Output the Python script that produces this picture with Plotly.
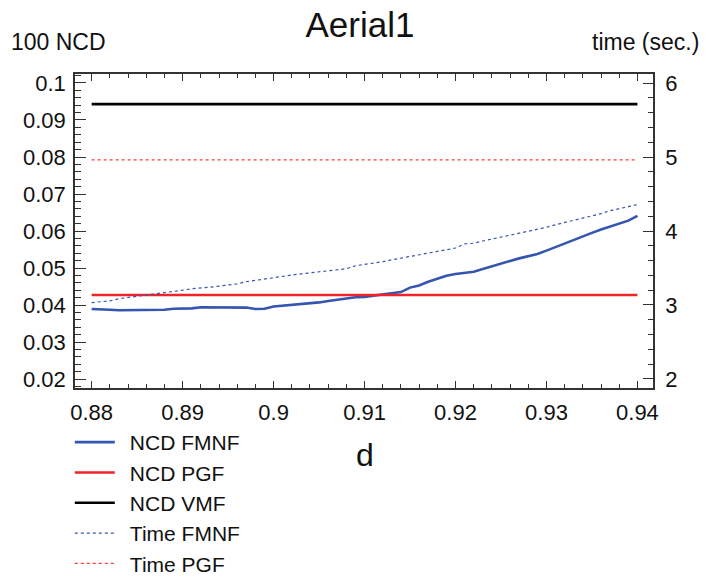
import plotly.graph_objects as go

# d parameter sweep
d_values = [round(0.880 + 0.001 * i, 3) for i in range(61)]

# NCD of the FMNF filter along d
ncd_fmnf = [
    0.0389, 0.0389, 0.0387, 0.0386, 0.0386, 0.0386, 0.0386, 0.0386, 0.0387, 0.0390,
    0.0390, 0.0391, 0.0394, 0.0394, 0.0394, 0.0394, 0.0394, 0.0393, 0.0389, 0.0390,
    0.0396, 0.0398, 0.0399, 0.0402, 0.0404, 0.0407, 0.0411, 0.0415, 0.0418, 0.0421,
    0.0422, 0.0425, 0.0428, 0.0431, 0.0435, 0.0447, 0.0453, 0.0463, 0.0472, 0.0479,
    0.0484, 0.0487, 0.0490, 0.0497, 0.0505, 0.0511, 0.0519, 0.0526, 0.0531, 0.0538,
    0.0547, 0.0557, 0.0566, 0.0576, 0.0585, 0.0595, 0.0604, 0.0612, 0.0619, 0.0628,
    0.0641,
]

# Run time of the FMNF filter (seconds)
time_fmnf = [
    3.033, 3.040, 3.055, 3.085, 3.100, 3.115, 3.135, 3.150, 3.160, 3.180,
    3.200, 3.220, 3.225, 3.240, 3.255, 3.270, 3.285, 3.315, 3.335, 3.350,
    3.375, 3.390, 3.405, 3.420, 3.435, 3.445, 3.460, 3.470, 3.490, 3.530,
    3.545, 3.565, 3.585, 3.610, 3.634, 3.655, 3.675, 3.700, 3.720, 3.745,
    3.770, 3.825, 3.835, 3.865, 3.890, 3.920, 3.950, 3.965, 3.990, 4.020,
    4.050, 4.085, 4.115, 4.145, 4.170, 4.200, 4.235, 4.275, 4.300, 4.325,
    4.357,
]

# Constant reference filters
ncd_pgf = 0.0427
ncd_vmf = 0.0943
time_pgf = 4.96

# Axis ticks
x_ticks = [0.88, 0.89, 0.90, 0.91, 0.92, 0.93, 0.94]
x_ticktext = ["0.88", "0.89", "0.9", "0.91", "0.92", "0.93", "0.94"]
y_ticks = [0.02, 0.03, 0.04, 0.05, 0.06, 0.07, 0.08, 0.09, 0.10]
y_ticktext = ["0.02", "0.03", "0.04", "0.05", "0.06", "0.07", "0.08", "0.09", "0.1"]
y2_ticks = [2, 3, 4, 5, 6]

BLUE = "#3456b0"
RED = "#f2222a"
FONT = "Liberation Sans, Arial, sans-serif"
PAD = "\u00a0\u2009"  # gap between legend swatch and label

W, H = 707, 581
L, R, T, B = 75, 54, 74, 193
PW = W - L - R
PH = H - T - B

d_span = [d_values[0], d_values[-1]]

fig = go.Figure()
fig.add_trace(go.Scatter(x=d_values, y=ncd_fmnf, mode="lines", name=PAD + "NCD FMNF",
                         line=dict(color=BLUE, width=2.6)))
fig.add_trace(go.Scatter(x=d_span, y=[ncd_pgf, ncd_pgf], mode="lines", name=PAD + "NCD PGF",
                         line=dict(color=RED, width=2.6)))
fig.add_trace(go.Scatter(x=d_span, y=[ncd_vmf, ncd_vmf], mode="lines", name=PAD + "NCD VMF",
                         line=dict(color="#000000", width=2.6)))
fig.add_trace(go.Scatter(x=d_values, y=time_fmnf, mode="lines", name=PAD + "Time FMNF",
                         yaxis="y2", line=dict(color=BLUE, width=1.2, dash="3px,3px")))
fig.add_trace(go.Scatter(x=d_span, y=[time_pgf, time_pgf], mode="lines", name=PAD + "Time PGF",
                         yaxis="y2", line=dict(color="#ff3a3a", width=1.2, dash="3px,3px")))

axis_common = dict(
    showline=True, linecolor="#333333", linewidth=1.5,
    ticks="inside", tickcolor="#333333", tickwidth=1.3,
    showgrid=False, zeroline=False,
    tickfont=dict(family=FONT, size=22, color="#111111"),
)

fig.update_layout(
    width=W, height=H,
    margin=dict(l=L, r=R, t=T, b=B, pad=0, autoexpand=False),
    paper_bgcolor="white", plot_bgcolor="white",
    showlegend=True,
    title=dict(text="Aerial1", x=360 / W, xref="container", xanchor="center",
               y=1 - 25 / H, yref="container", yanchor="middle",
               font=dict(family=FONT, size=35, color="#111111")),
    xaxis=dict(
        range=[0.87817, 0.94171], tickmode="array", tickvals=x_ticks, ticktext=x_ticktext,
        ticklen=7, mirror="ticks",
        minor=dict(dtick=0.002, tick0=0.88, ticks="inside", ticklen=4,
                   tickcolor="#333333", tickwidth=1.2),
        ticklabelstandoff=4,
        **axis_common,
    ),
    yaxis=dict(
        range=[0.01757, 0.10243], tickmode="array", tickvals=y_ticks, ticktext=y_ticktext,
        ticklen=11,
        minor=dict(dtick=0.002, tick0=0.02, ticks="inside", ticklen=6,
                   tickcolor="#333333", tickwidth=1.2),
        ticklabelstandoff=3,
        **axis_common,
    ),
    yaxis2=dict(
        overlaying="y", side="right",
        range=[1.878, 6.122], tickmode="array", tickvals=y2_ticks,
        ticklen=10,
        minor=dict(dtick=0.2, tick0=2, ticks="inside", ticklen=5,
                   tickcolor="#333333", tickwidth=1.2),
        ticklabelstandoff=6,
        **axis_common,
    ),
    legend=dict(
        x=-0.009, xanchor="left", xref="paper",
        y=1 - 422 / H, yanchor="top", yref="container",
        font=dict(family=FONT, size=21, color="#111111"),
        itemwidth=40, tracegroupgap=0, traceorder="normal",
        bgcolor="rgba(0,0,0,0)", borderwidth=0,
    ),
    annotations=[
        dict(text="100 NCD", xref="paper", yref="paper", x=(9 - L) / PW, y=1 + (T - 42) / PH,
             xanchor="left", yanchor="middle", showarrow=False,
             font=dict(family=FONT, size=23, color="#111111")),
        dict(text="time (sec.)", xref="paper", yref="paper", x=(701 - L) / PW, y=1 + (T - 42) / PH,
             xanchor="right", yanchor="middle", showarrow=False,
             font=dict(family=FONT, size=23, color="#111111")),
        dict(text="d", xref="paper", yref="paper", x=(365 - L) / PW, y=-(455 - T - PH) / PH,
             xanchor="center", yanchor="middle", showarrow=False,
             font=dict(family=FONT, size=32, color="#111111")),
    ],
)

fig.write_html("out.html")
